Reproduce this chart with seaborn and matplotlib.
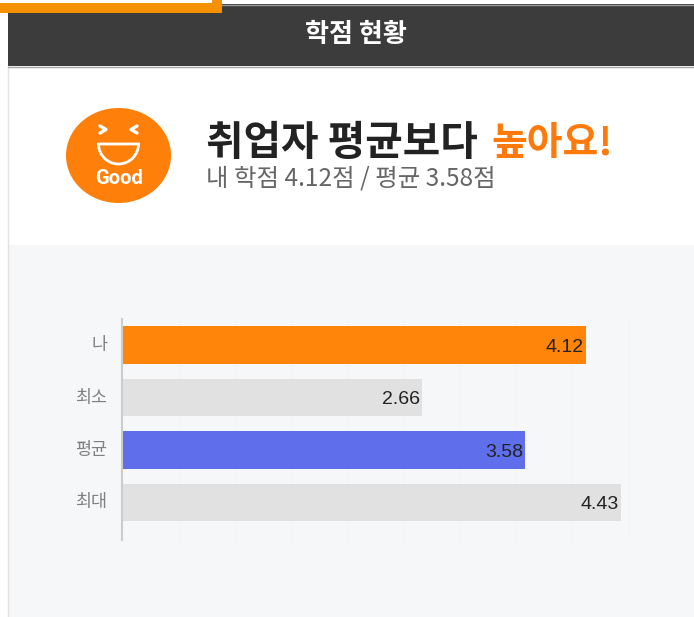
import matplotlib
matplotlib.use('Agg')
import matplotlib.pyplot as plt
from matplotlib.patches import Rectangle, Ellipse, Wedge
from matplotlib.transforms import ScaledTranslation
import pandas as pd
import seaborn as sns

categories = ['나', '최소', '평균', '최대']
values = [4.12, 2.66, 3.58, 4.43]
bar_colors = ['#ff840a', '#e0e1e0', '#5f6fec', '#e0e1e0']
value_labels = ['4.12', '2.66', '3.58', '4.43']

header = '학점 현황'
headline = '취업자 평균보다'
headline_hi = '높아요!'
subline = '내 학점 4.12점 / 평균 3.58점'

W, H = 694, 617

sns.set_theme(style='white')
plt.rcParams['font.family'] = ['Noto Sans CJK KR', 'DejaVu Sans']

fig = plt.figure(figsize=(W / 100, H / 100), dpi=100, facecolor='white')

# page furniture, in pixel coordinates
bg = fig.add_axes([0, 0, 1, 1])
bg.set_xlim(0, W)
bg.set_ylim(H, 0)
bg.axis('off')

bg.add_patch(Rectangle((8, 245), W - 8, H - 245, fc='#f6f7f9', ec='none'))
bg.plot([8.5, 8.5], [66, H], color='#e2e2e2', lw=1)
bg.add_patch(Rectangle((8, 4), W - 8, 62, fc='#3c3c3c', ec='none'))
bg.plot([8, W], [4.5, 4.5], color='#999999', lw=1)
bg.plot([8, W], [66.5, 66.5], color='#a5a5a5', lw=1)
bg.add_patch(Rectangle((0, 3), 222.5, 10, fc='#f59100', ec='none', zorder=3))
bg.add_patch(Rectangle((212, 0), 10.5, 3, fc='#f59100', ec='none', zorder=3))

bg.text(356, 35, header, color='white', fontsize=18.8, fontweight='bold',
        ha='center', va='center')
bg.text(206, 143, headline, color='#222222', fontsize=29.4, fontweight='bold',
        ha='left', va='center')
bg.text(491, 143, headline_hi, color='#ff7a0a', fontsize=28, fontweight='bold',
        ha='left', va='center')
bg.text(206, 179, subline, color='#666666', fontsize=17.6,
        ha='left', va='center')

# the Good badge
bg.add_patch(Ellipse((118.5, 155.5), 105, 95, fc='#ff7f0b', ec='none'))
bg.plot([100, 106, 100], [126, 129.5, 133], color='white', lw=2.4)
bg.plot([137, 131, 137], [126, 129.5, 133], color='white', lw=2.4)
bg.add_patch(Wedge((118.5, 144), 20, 0, 180, fc='none', ec='white', lw=2))
bg.text(119, 179, 'Good', color='#ffffff', fontsize=14.5, fontweight='bold',
        family=['Roboto', 'DejaVu Sans'], ha='center', va='center')

# chart area: x from 122.5 px at 112.5 px per unit
ax = fig.add_axes([122.5 / W, 1 - 540 / H, 562.5 / W, 221 / H])
ax.patch.set_alpha(0)

df = pd.DataFrame({'category': categories, 'value': values})
sns.barplot(data=df, x='value', y='category', hue='category', palette=bar_colors,
            legend=False, width=0.714, saturation=1, linewidth=0, ax=ax)

ax.set_xlim(0, 5)
ax.set_ylim(3.72, -0.50)
ax.set_xlabel('')
ax.set_ylabel('')
ax.set_xticks([i * 0.5 for i in range(1, 11)])
ax.set_xticklabels([])
ax.grid(axis='x', color='#f3f4f6', lw=0.8)
ax.set_axisbelow(True)
ax.tick_params(axis='both', length=0)
ax.tick_params(axis='y', pad=11, labelsize=12.5, labelcolor='#808080')
for side in ['top', 'right', 'bottom']:
    ax.spines[side].set_visible(False)
ax.spines['left'].set_color('#cccccc')
ax.spines['left'].set_linewidth(1.5)

# nudge the category labels up a little
nudge = ScaledTranslation(0, 2 / 100, fig.dpi_scale_trans)
for lab in ax.get_yticklabels():
    lab.set_transform(lab.get_transform() + nudge)

for container, label in zip(ax.containers, value_labels):
    texts = ax.bar_label(container, labels=[label], label_type='edge', padding=-2,
                         color='#222222', fontsize=14,
                         family=['Liberation Sans', 'DejaVu Sans'])
    for t in texts:
        t.set_ha('right')
        t.xyann = (-1.5, -1.5)

fig.savefig('out.png', dpi=100)
